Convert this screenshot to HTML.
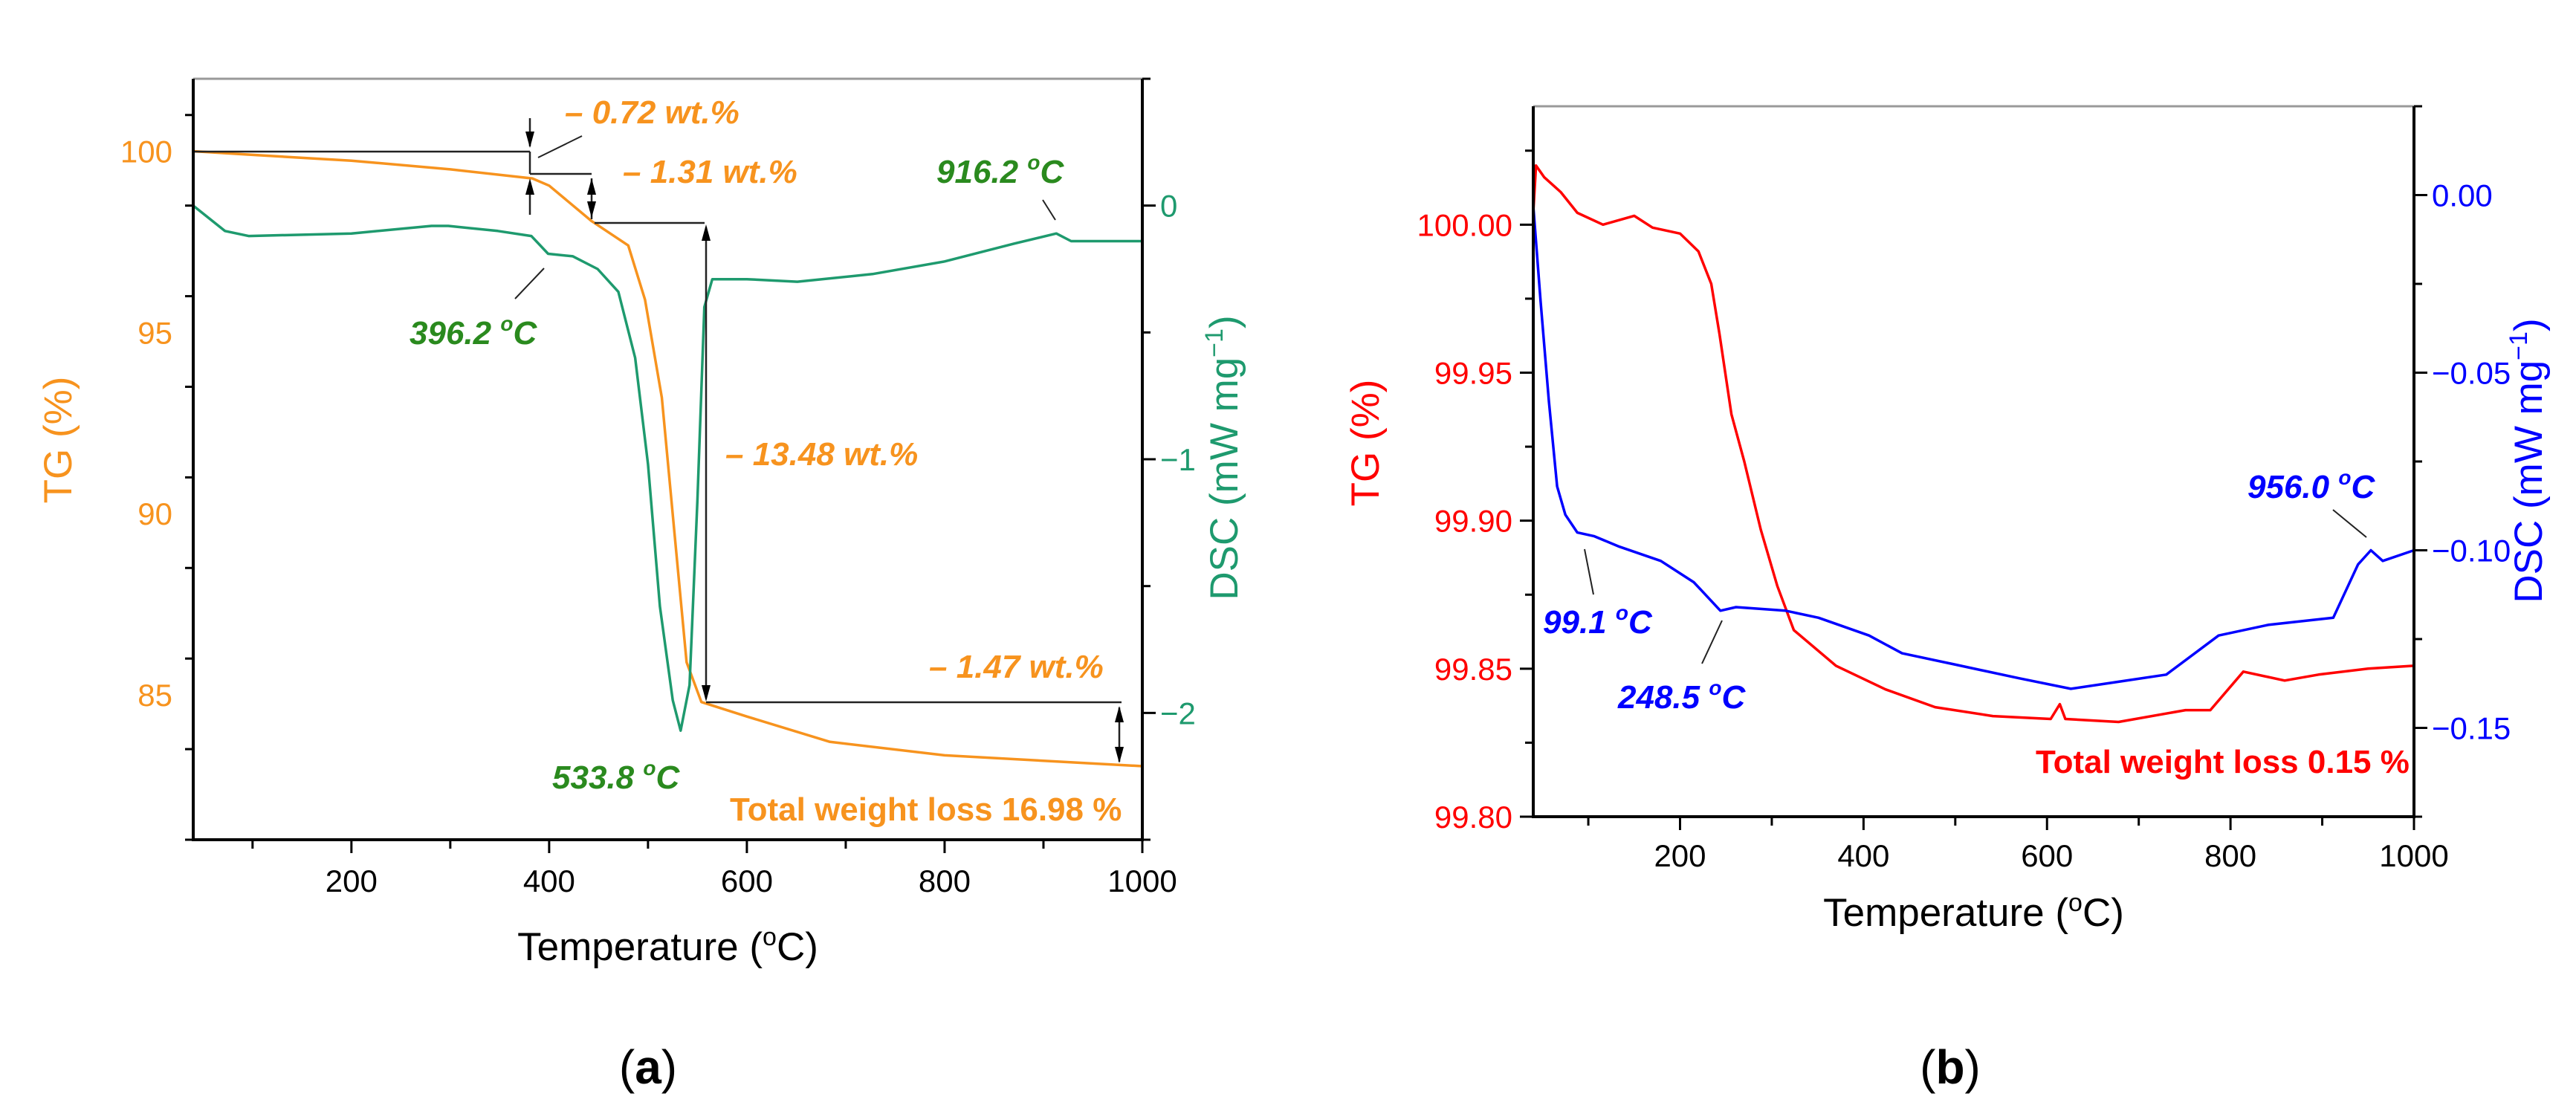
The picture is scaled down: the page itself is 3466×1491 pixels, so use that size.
<!DOCTYPE html>
<html><head><meta charset="utf-8"><style>
html,body{margin:0;padding:0;background:#fff;}
svg{display:block;}
text{font-family:"Liberation Sans",Arial,sans-serif;}
</style></head><body>
<svg id="fig" width="3466" height="1491" viewBox="0 0 3466 1491" xmlns="http://www.w3.org/2000/svg">
<rect width="3466" height="1491" fill="#fff"/>
<g id="pa"></g>
<g id="pb"></g>
</svg>
<script>
// ---- Panel (a) data ----
const aTemp = [40,100,200,300,383,400,443,480,497,514,527,539,554,600,684,800,1000];
const aTG = [100,99.9,99.74,99.5,99.25,99.05,98.07,97.4,95.9,93.2,89.4,85.9,84.8,84.4,83.7,83.33,83.03];
const aDscTemp = [40,72,96,200,281,298,348,382,399,424,449,470,487,500,512,525,533,542,550,557,565,600,651,727,800,870,913,928,1000];
const aDSC = [0.0,-0.10,-0.12,-0.11,-0.08,-0.08,-0.10,-0.12,-0.19,-0.20,-0.25,-0.34,-0.60,-1.02,-1.58,-1.95,-2.07,-1.89,-1.16,-0.40,-0.29,-0.29,-0.30,-0.27,-0.22,-0.15,-0.11,-0.14,-0.14];
const aXTicks = [200,400,600,800,1000];
const aTGTicks = [85,90,95,100];
const aDSCTicks = [-2,-1,0];
// ---- Panel (b) data ----
const bTemp = [40,43,52,70,88,116,150,170,200,220,234,243,256,270,288,306,324,370,424,478,541,604,614,620,678,751,778,814,859,896,950,1000];
const bTG = [100.004,100.02,100.016,100.011,100.004,100.0,100.003,99.999,99.997,99.991,99.98,99.963,99.936,99.92,99.897,99.878,99.863,99.851,99.843,99.837,99.834,99.833,99.838,99.833,99.832,99.836,99.836,99.849,99.846,99.848,99.85,99.851];
const bDscTemp = [40,48,57,66,75,88,106,134,179,215,244,261,315,351,406,442,497,569,626,678,730,787,841,912,939,953,966,1000];
const bDSC = [-0.003,-0.030,-0.058,-0.082,-0.090,-0.095,-0.096,-0.099,-0.103,-0.109,-0.117,-0.116,-0.117,-0.119,-0.124,-0.129,-0.132,-0.136,-0.139,-0.137,-0.135,-0.124,-0.121,-0.119,-0.104,-0.100,-0.103,-0.100];
const bXTicks = [200,400,600,800,1000];
const bTGTicks = [99.80,99.85,99.90,99.95,100.00];
const bDSCTicks = [-0.15,-0.10,-0.05,0.00];

const NS="http://www.w3.org/2000/svg";
function mk(parent,tag,attrs,txt){const e=document.createElementNS(NS,tag);for(const k in attrs)e.setAttribute(k,attrs[k]);if(txt!==undefined)e.textContent=txt;parent.appendChild(e);return e;}
function lin(d0,d1,r0,r1){return v=>r0+(v-d0)*(r1-r0)/(d1-d0);}

function panel(g,o){
  const X=lin(o.xmin,o.xmax,o.L,o.R), YL=lin(o.ylmin,o.ylmax,o.B,o.T), YR=lin(o.yrmin,o.yrmax,o.B,o.T);
  // curves
  let p1=o.t1.map((t,i)=>(i?'L':'M')+X(t).toFixed(1)+','+YL(o.v1[i]).toFixed(1)).join('');
  let c1=mk(g,'path',{d:p1,fill:'none',stroke:o.c1,'stroke-width':3.5,'stroke-linejoin':'round'});
  
  
  let p2=o.t2.map((t,i)=>(i?'L':'M')+X(t).toFixed(1)+','+YR(o.v2[i]).toFixed(1)).join('');
  let c2=mk(g,'path',{d:p2,fill:'none',stroke:o.c2,'stroke-width':3.5,'stroke-linejoin':'round'});
  
  
  // frame
  mk(g,'line',{x1:o.L,y1:o.T,x2:o.R,y2:o.T,stroke:'#999','stroke-width':3});
  let ax=mk(g,'path',{d:`M${o.L},${o.T}V${o.B}H${o.R}V${o.T}`,fill:'none',stroke:'#000','stroke-width':4});
  
  
  // x ticks
  for(let t=100;t<=1000;t+=100){mk(g,'line',{x1:X(t),y1:o.B,x2:X(t),y2:o.B+(t%200?12:18),stroke:'#000','stroke-width':3});}
  o.xt.forEach(t=>{const e=mk(g,'text',{x:X(t),y:o.xtY,'font-size':42,'text-anchor':'middle',fill:'#000'},String(t));
    
    });
  // left ticks
  for(let v=o.ylmin+o.lminor*Math.ceil((o.ylmin-o.ylmin)/o.lminor);v<=o.ylmax+1e-9;v+=o.lminor){
    const maj=o.lt.some(m=>Math.abs(m-v)<1e-6);
    mk(g,'line',{x1:o.L,y1:YL(v),x2:o.L-(maj?18:11),y2:YL(v),stroke:'#000','stroke-width':3});}
  o.lt.forEach(v=>{const e=mk(g,'text',{x:o.L-28,y:YL(v)+15,'font-size':42,'text-anchor':'end',fill:o.c1},v.toFixed(o.ldec));
    
    });
  // right ticks
  for(let v=o.rstart;v<=o.yrmax+1e-9;v+=o.rminor){
    const maj=o.rt.some(m=>Math.abs(m-v)<1e-6);
    mk(g,'line',{x1:o.R,y1:YR(v),x2:o.R+(maj?18:11),y2:YR(v),stroke:'#000','stroke-width':3});}
  o.rt.forEach(v=>{const s=(v<0?'\u2212':'')+Math.abs(v).toFixed(o.rdec);
    const e=mk(g,'text',{x:o.R+24,y:YR(v)+15,'font-size':42,'text-anchor':'start',fill:o.rc},s);
    
    });
  // titles
  let xt=mk(g,'text',{x:(o.L+o.R)/2,y:o.xTitleY,'font-size':53,'text-anchor':'middle',fill:'#000'});
  xt.innerHTML='Temperature (<tspan font-size="34" dy="-20">o</tspan><tspan dy="20">C)</tspan>';
  
  
  let yt=mk(g,'text',{x:0,y:0,'font-size':53,'text-anchor':'middle',fill:o.c1,transform:`translate(${o.tgX},${o.tgY}) rotate(-90)`},'TG (%)');
  
  
  let yr=mk(g,'text',{x:0,y:0,'font-size':53,'text-anchor':'middle',fill:o.rc,transform:`translate(${o.dscX},${o.dscY}) rotate(-90)`});
  yr.innerHTML='DSC (mW mg<tspan font-size="34" dy="-20">\u22121</tspan><tspan dy="20">)</tspan>';
  
  
  return {X,YL,YR};
}
function ann(g,x,y,txt,col,name,italic){
  const e=mk(g,'text',{x:x,y:y,'font-size':44,'font-weight':'bold','font-style':italic===false?'normal':'italic',fill:col});
  e.innerHTML=txt;
  
  
}
const DEG='<tspan font-size="28" dy="-18">o</tspan><tspan dy="18">C</tspan>';
function ln(g,x1,y1,x2,y2,w){mk(g,'line',{x1,y1,x2,y2,stroke:'#222','stroke-width':w||2.5});}
function arrow(g,x,y,dir){ // tip at (x,y), dir 1 = pointing down
  mk(g,'path',{d:`M${x},${y}L${x-6},${y-dir*22}L${x+6},${y-dir*22}Z`,fill:'#000'});}

// Panel a
const ga=document.getElementById('pa');
const ORA='#F7931E', TEAL='#1E9A6E', GRN='#2A8A1E';
panel(ga,{xmin:40,xmax:1000,L:260,R:1537,T:106,B:1130,ylmin:81,ylmax:102,yrmin:-2.5,yrmax:0.5,
  t1:aTemp,v1:aTG,t2:aDscTemp,v2:aDSC,c1:ORA,c2:TEAL,rc:TEAL,n1:'tg-curve',n2:'dsc-curve',
  xt:aXTicks,xtY:1200,lt:aTGTicks,lminor:2.5,ldec:0,rt:aDSCTicks,rstart:-2.5,rminor:0.5,rdec:0,
  xTitleY:1292,tgX:96,tgY:592,dscX:1665,dscY:616});
// step lines a
ln(ga,262,204,713,204); ln(ga,713,204,713,234); ln(ga,713,234,796,234);
ln(ga,713,159,713,197); arrow(ga,713,199,1); ln(ga,713,289,713,245); arrow(ga,713,240,-1);
ln(ga,796,240,796,295); arrow(ga,796,240,-1); arrow(ga,796,293,1);
ln(ga,800,300,948,300); ln(ga,950,306,950,940); arrow(ga,950,302,-1); arrow(ga,950,944,1);
ln(ga,950,945,1509,945); ln(ga,1506,952,1506,1025); arrow(ga,1506,950,-1); arrow(ga,1506,1027,1);
ln(ga,724,212,783,183,2); ln(ga,693,402,732,361,2); ln(ga,1403,269,1420,296,2);
ann(ga,760,166,'\u2013 0.72 wt.%',ORA,'loss-label-0-72');
ann(ga,838,246,'\u2013 1.31 wt.%',ORA,'loss-label-1-31');
ann(ga,976,626,'\u2013 13.48 wt.%',ORA,'loss-label-13-48');
ann(ga,1250,912,'\u2013 1.47 wt.%',ORA,'loss-label-1-47');
ann(ga,1260,246,'916.2 '+DEG,GRN,'peak-label-916');
ann(ga,551,463,'396.2 '+DEG,GRN,'peak-label-396');
ann(ga,743,1061,'533.8 '+DEG,GRN,'peak-label-533');
ann(ga,982,1104,'Total weight loss 16.98 %',ORA,'total-loss-label-a',false);
let la=mk(ga,'text',{x:872,y:1458,'font-size':64,'text-anchor':'middle',fill:'#000','font-family':'Liberation Serif, serif'});
la.innerHTML='(<tspan font-weight="bold">a</tspan>)';



// Panel b
const gb=document.getElementById('pb');
panel(gb,{xmin:40,xmax:1000,L:2063,R:3248,T:143,B:1099,ylmin:99.80,ylmax:100.040,yrmin:-0.175,yrmax:0.025,
  t1:bTemp,v1:bTG,t2:bDscTemp,v2:bDSC,c1:'#FF0000',c2:'#0000FF',rc:'#0000FF',n1:'tg-curve',n2:'dsc-curve',
  xt:bXTicks,xtY:1166,lt:bTGTicks,lminor:0.025,ldec:2,rt:bDSCTicks,rstart:-0.175,rminor:0.025,rdec:2,
  xTitleY:1246,tgX:1855,tgY:596,dscX:3420,dscY:620});
ln(gb,2132,739,2144,800,2); ln(gb,2317,835,2290,893,2); ln(gb,3139,686,3184,723,2);
ann(gb,2076,852,'99.1 '+DEG,'#0000FF','peak-label-99');
ann(gb,2177,953,'248.5 '+DEG,'#0000FF','peak-label-248');
ann(gb,3024,670,'956.0 '+DEG,'#0000FF','peak-label-956');
ann(gb,2739,1040,'Total weight loss 0.15 %','#FF0000','total-loss-label-b',false);
let lb=mk(gb,'text',{x:2624,y:1458,'font-size':64,'text-anchor':'middle',fill:'#000','font-family':'Liberation Serif, serif'});
lb.innerHTML='(<tspan font-weight="bold">b</tspan>)';


</script>
</body></html>
